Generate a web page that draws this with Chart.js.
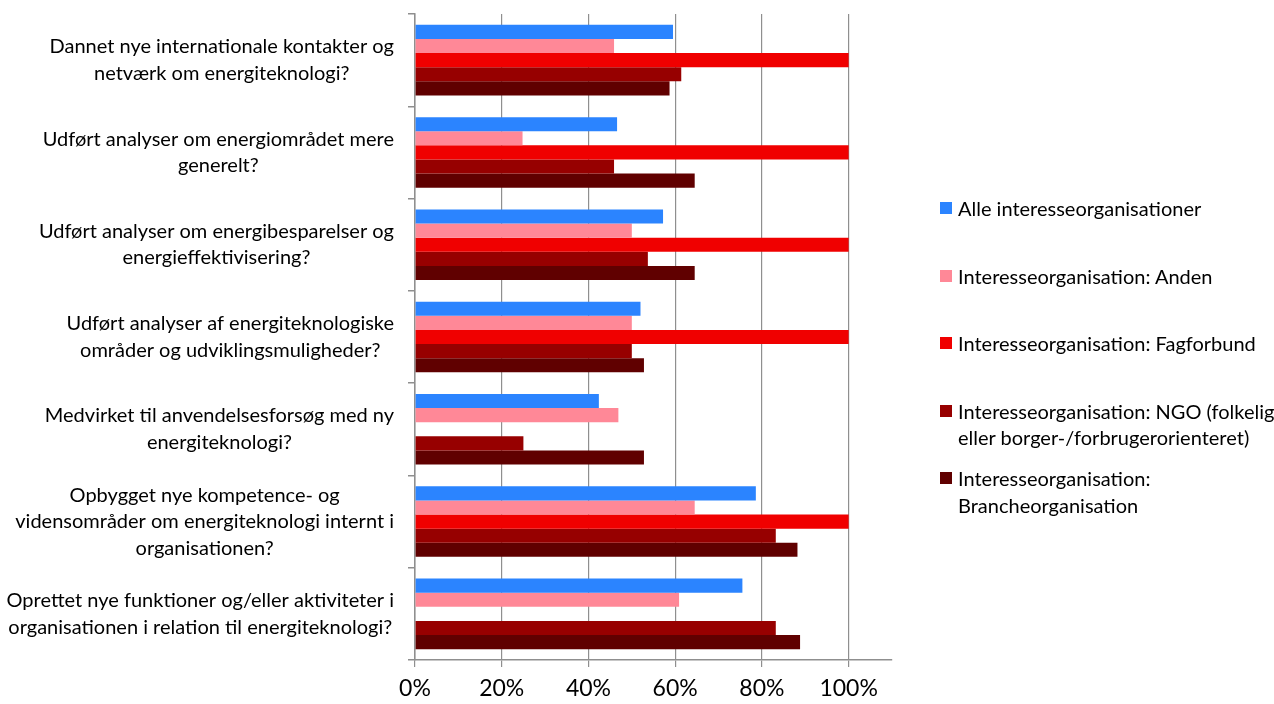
<!DOCTYPE html>
<html>
<head>
<meta charset="utf-8">
<script src="https://cdn.jsdelivr.net/npm/chart.js@4/dist/chart.umd.min.js"></script>
<style>
    html, body { margin: 0; padding: 0; background: #fff; }
    .wrap { position: relative; width: 1274px; height: 704px; }
    #legend {
        position: absolute; left: 940px; top: 195px;
        font-family: Lato, sans-serif; font-size: 20px; color: #000;
        line-height: 26.5px;
    }
    #legend .item { position: relative; padding-left: 18px; height: 67.5px; white-space: nowrap; }
    #legend .box { position: absolute; left: 0; top: 7px; width: 12px; height: 12px; }
</style>
</head>
<body>
<div class="wrap">
    <canvas id="chart" width="1274" height="704"></canvas>
    <div id="legend"></div>
</div>
<script>
// kategorier (linjeskift som i originalen)
const categories = [
    ['Dannet nye internationale kontakter og', 'netværk om energiteknologi?'],
    ['Udført analyser om energiområdet mere', 'generelt?'],
    ['Udført analyser om energibesparelser og', 'energieffektivisering?'],
    ['Udført analyser af energiteknologiske', 'områder og udviklingsmuligheder?'],
    ['Medvirket til anvendelsesforsøg med ny', 'energiteknologi?'],
    ['Opbygget nye kompetence- og', 'vidensområder om energiteknologi internt i', 'organisationen?'],
    ['Oprettet nye funktioner og/eller aktiviteter i', 'organisationen i relation til energiteknologi?']
];

const seriesNames = [
    ['Alle interesseorganisationer'],
    ['Interesseorganisation: Anden'],
    ['Interesseorganisation: Fagforbund'],
    ['Interesseorganisation: NGO (folkelig', 'eller borger-/forbrugerorienteret)'],
    ['Interesseorganisation:', 'Brancheorganisation']
];

const alle      = [0.595, 0.466, 0.572, 0.520, 0.424, 0.786, 0.755];
const anden     = [0.459, 0.248, 0.500, 0.500, 0.469, 0.645, 0.609];
const fagforbund = [1.0, 1.0, 1.0, 1.0, null, 1.0, null];
const ngo       = [0.614, 0.459, 0.537, 0.500, 0.250, 0.832, 0.832];
const branche   = [0.587, 0.645, 0.645, 0.528, 0.528, 0.882, 0.888];

const tickValues = [0, 0.2, 0.4, 0.6, 0.8, 1.0];

const colors = ['#2b84ff', '#ff8897', '#f00000', '#970000', '#600000'];
const allSeries = [alle, anden, fagforbund, ngo, branche];

const labelFont = '20px Lato';

// tegner kategoritekster, hver blok centreret linje for linje
const categoryLabels = {
    id: 'categoryLabels',
    afterDraw(chart) {
        const ctx = chart.ctx;
        const yScale = chart.scales.y;
        const rightEdge = yScale.right - 21;
        const lineH = 26.5;
        ctx.save();
        ctx.font = labelFont;
        ctx.fillStyle = '#000';
        ctx.textAlign = 'center';
        ctx.textBaseline = 'middle';
        categories.forEach((lines, i) => {
            const w = Math.max(...lines.map(l => ctx.measureText(l).width));
            const cx = rightEdge - w / 2;
            const cy = yScale.getPixelForValue(i);
            const top = cy - (lines.length - 1) * lineH / 2;
            lines.forEach((l, j) => ctx.fillText(l, cx, top + j * lineH));
        });
        ctx.restore();
    }
};

new Chart(document.getElementById('chart'), {
    type: 'bar',
    data: {
        labels: categories.map(c => c.join(' ')),
        datasets: allSeries.map((d, i) => ({
            label: seriesNames[i].join(' '),
            data: d,
            backgroundColor: colors[i],
            borderWidth: 0,
            barPercentage: 1.0,
            categoryPercentage: 0.765
        }))
    },
    options: {
        indexAxis: 'y',
        responsive: false,
        animation: false,
        layout: { padding: { top: 14, right: 382, bottom: 0, left: 0 } },
        plugins: {
            legend: { display: false },
            tooltip: { enabled: false }
        },
        scales: {
            x: {
                min: 0,
                max: 1.1,
                afterBuildTicks: (scale) => {
                    scale.ticks = tickValues.map(v => ({ value: v }));
                },
                afterFit: (scale) => { scale.height = 44; },
                ticks: {
                    font: { family: 'Lato', size: 23 },
                    color: '#000',
                    padding: 8,
                    callback: (v) => Math.round(v * 100) + '%'
                },
                grid: {
                    color: '#8f8f8f',
                    lineWidth: 1.2,
                    tickLength: 7,
                    tickColor: '#8f8f8f'
                },
                border: { color: '#8f8f8f', width: 1.5 }
            },
            y: {
                afterFit: (scale) => { scale.width = 415; },
                ticks: { display: false },
                grid: {
                    drawOnChartArea: false,
                    tickLength: 7,
                    tickColor: '#8f8f8f',
                    lineWidth: 1.5
                },
                border: { color: '#8f8f8f', width: 1.5 }
            }
        }
    },
    plugins: [categoryLabels]
});

// legende til højre
const legend = document.getElementById('legend');
seriesNames.forEach((lines, i) => {
    const item = document.createElement('div');
    item.className = 'item';
    const box = document.createElement('span');
    box.className = 'box';
    box.style.background = colors[i];
    item.appendChild(box);
    lines.forEach(l => {
        const row = document.createElement('div');
        row.textContent = l;
        item.appendChild(row);
    });
    legend.appendChild(item);
});
</script>
</body>
</html>
